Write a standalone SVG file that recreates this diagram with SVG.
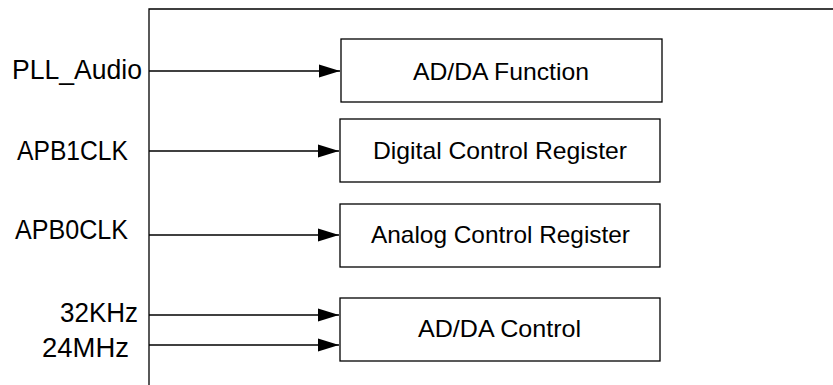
<svg xmlns="http://www.w3.org/2000/svg" width="833" height="385" viewBox="0 0 833 385">
<style>
.frame{fill:none;stroke:#000;stroke-width:1.3}
.box{fill:#fff;stroke:#000;stroke-width:1.3}
.wire{fill:none;stroke:#000;stroke-width:1.3}
.lbl{font-family:"Liberation Sans",Arial,sans-serif;font-size:27px;fill:#000}
.btxt{font-family:"Liberation Sans",Arial,sans-serif;font-size:24px;fill:#000}
</style>
<defs>
<marker id="arr" markerUnits="userSpaceOnUse" markerWidth="22" markerHeight="14" viewBox="0 0 22 14" refX="21" refY="7" orient="auto">
<path d="M0,0.5 L21,7 L0,13.5 Z" fill="#000"/>
</marker>
</defs>
<g id="frame">
<path class="frame" d="M149,385 L149,9 L833,9"/>
</g>
<g id="labels">
<text class="lbl" x="12" y="79" textLength="130" lengthAdjust="spacingAndGlyphs">PLL_Audio</text>
<text class="lbl" x="17" y="159.5" textLength="111" lengthAdjust="spacingAndGlyphs">APB1CLK</text>
<text class="lbl" x="15" y="239" textLength="113" lengthAdjust="spacingAndGlyphs">APB0CLK</text>
<text class="lbl" x="60" y="321.5" textLength="78" lengthAdjust="spacingAndGlyphs">32KHz</text>
<text class="lbl" x="42" y="357" textLength="87" lengthAdjust="spacingAndGlyphs">24MHz</text>
</g>
<g id="connectors">
<line class="wire" x1="149" y1="71" x2="340" y2="71" marker-end="url(#arr)"/>
<line class="wire" x1="149" y1="151" x2="339" y2="151" marker-end="url(#arr)"/>
<line class="wire" x1="149" y1="235" x2="339" y2="235" marker-end="url(#arr)"/>
<line class="wire" x1="149" y1="315" x2="339" y2="315" marker-end="url(#arr)"/>
<line class="wire" x1="149" y1="345" x2="339" y2="345" marker-end="url(#arr)"/>
</g>
<g id="node-adda-function">
<rect class="box" x="341" y="39" width="321" height="63"/>
<text class="btxt" x="413" y="80" textLength="176" lengthAdjust="spacingAndGlyphs">AD/DA Function</text>
</g>
<g id="node-digital-control">
<rect class="box" x="340" y="119" width="320" height="63"/>
<text class="btxt" x="373" y="158.5" textLength="254" lengthAdjust="spacingAndGlyphs">Digital Control Register</text>
</g>
<g id="node-analog-control">
<rect class="box" x="340" y="204" width="320" height="63"/>
<text class="btxt" x="371" y="243" textLength="259" lengthAdjust="spacingAndGlyphs">Analog Control Register</text>
</g>
<g id="node-adda-control">
<rect class="box" x="340" y="298" width="320" height="63"/>
<text class="btxt" x="418" y="337" textLength="163" lengthAdjust="spacingAndGlyphs">AD/DA Control</text>
</g>
</svg>
